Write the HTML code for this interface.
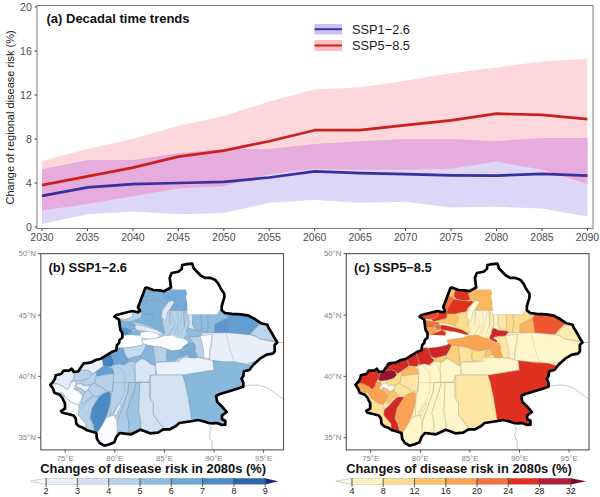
<!DOCTYPE html>
<html lang="en"><head><meta charset="utf-8"><title>Regional disease risk projections</title>
<style>
html,body{margin:0;padding:0;background:#fff;}
body{width:600px;height:497px;overflow:hidden;}
svg text{font-family:"Liberation Sans",Arial,Helvetica,sans-serif;}
</style></head><body>
<svg width="600" height="497" viewBox="0 0 600 497" style="display:block">
<rect width="600" height="497" fill="#fff"/>
<path d="M42.0,169.2 L87.5,159.9 L132.9,159.9 L178.3,153.3 L223.8,148.9 L269.2,148.9 L314.7,143.9 L360.1,141.2 L405.6,139.0 L451.1,139.0 L496.5,141.2 L542.0,137.9 L587.4,137.9 L587.4,216.4 L542.0,208.6 L496.5,206.7 L451.1,207.4 L405.6,201.7 L360.1,202.8 L314.7,200.1 L269.2,202.8 L223.8,213.1 L178.3,214.2 L132.9,211.6 L87.5,214.2 L42.0,224.0 L42.0,169.2Z" fill="#ddd6f6"/>
<path d="M42.0,161.0 L87.5,148.9 L132.9,139.0 L178.3,125.8 L223.8,115.9 L269.2,101.6 L314.7,89.5 L360.1,87.3 L405.6,80.7 L451.1,73.3 L496.5,67.5 L542.0,61.6 L587.4,58.7 L587.4,184.1 L542.0,169.8 L496.5,161.6 L451.1,168.7 L405.6,169.8 L360.1,169.8 L314.7,168.7 L269.2,174.2 L223.8,186.3 L178.3,188.5 L132.9,196.2 L87.5,203.9 L42.0,210.5 L42.0,161.0Z" fill="#fdd7d9"/>
<path d="M542.0,137.9 L496.5,141.2 L451.1,139.0 L405.6,139.0 L360.1,141.2 L314.7,143.9 L269.2,148.9 L223.8,148.9 L178.3,153.3 L132.9,159.9 L87.5,159.9 L42.0,169.2 L42.0,210.5 L87.5,203.9 L132.9,196.2 L178.3,188.5 L223.8,186.3 L269.2,174.2 L314.7,168.7 L360.1,169.8 L405.6,169.8 L451.1,168.7 L496.5,161.6 L542.0,169.8 L587.4,184.1 L587.4,137.9 L542.0,137.9Z" fill="#e5acdd"/>
<polyline points="42.0,195.9 87.5,187.4 132.9,184.1 178.3,183.0 223.8,181.9 269.2,177.5 314.7,171.4 360.1,173.1 405.6,174.2 451.1,175.3 496.5,175.7 542.0,173.8 587.4,175.7" fill="none" stroke="#3b2f9f" stroke-width="2.7" stroke-linejoin="round"/>
<polyline points="42.0,185.2 87.5,176.4 132.9,167.6 178.3,156.6 223.8,150.6 269.2,141.2 314.7,130.2 360.1,130.2 405.6,125.1 451.1,120.3 496.5,113.7 542.0,114.8 587.4,119.2" fill="none" stroke="#c9211e" stroke-width="2.7" stroke-linejoin="round"/>
<rect x="37" y="5.5" width="556" height="223" fill="none" stroke="#7a7a7a" stroke-width="1"/>
<line x1="34.5" x2="37" y1="227.0" y2="227.0" stroke="#444" stroke-width="1"/>
<text x="31.8" y="230.8" font-size="10.5" text-anchor="end" fill="#4d4d4d">0</text>
<line x1="34.5" x2="37" y1="183.0" y2="183.0" stroke="#444" stroke-width="1"/>
<text x="31.8" y="186.8" font-size="10.5" text-anchor="end" fill="#4d4d4d">4</text>
<line x1="34.5" x2="37" y1="139.0" y2="139.0" stroke="#444" stroke-width="1"/>
<text x="31.8" y="142.8" font-size="10.5" text-anchor="end" fill="#4d4d4d">8</text>
<line x1="34.5" x2="37" y1="95.0" y2="95.0" stroke="#444" stroke-width="1"/>
<text x="31.8" y="98.8" font-size="10.5" text-anchor="end" fill="#4d4d4d">12</text>
<line x1="34.5" x2="37" y1="51.0" y2="51.0" stroke="#444" stroke-width="1"/>
<text x="31.8" y="54.8" font-size="10.5" text-anchor="end" fill="#4d4d4d">16</text>
<line x1="34.5" x2="37" y1="7.0" y2="7.0" stroke="#444" stroke-width="1"/>
<text x="31.8" y="10.8" font-size="10.5" text-anchor="end" fill="#4d4d4d">20</text>
<line x1="42.0" x2="42.0" y1="228.5" y2="231" stroke="#444" stroke-width="1"/>
<text x="42.0" y="241.2" font-size="10.5" text-anchor="middle" fill="#4d4d4d">2030</text>
<line x1="87.5" x2="87.5" y1="228.5" y2="231" stroke="#444" stroke-width="1"/>
<text x="87.5" y="241.2" font-size="10.5" text-anchor="middle" fill="#4d4d4d">2035</text>
<line x1="132.9" x2="132.9" y1="228.5" y2="231" stroke="#444" stroke-width="1"/>
<text x="132.9" y="241.2" font-size="10.5" text-anchor="middle" fill="#4d4d4d">2040</text>
<line x1="178.3" x2="178.3" y1="228.5" y2="231" stroke="#444" stroke-width="1"/>
<text x="178.3" y="241.2" font-size="10.5" text-anchor="middle" fill="#4d4d4d">2045</text>
<line x1="223.8" x2="223.8" y1="228.5" y2="231" stroke="#444" stroke-width="1"/>
<text x="223.8" y="241.2" font-size="10.5" text-anchor="middle" fill="#4d4d4d">2050</text>
<line x1="269.2" x2="269.2" y1="228.5" y2="231" stroke="#444" stroke-width="1"/>
<text x="269.2" y="241.2" font-size="10.5" text-anchor="middle" fill="#4d4d4d">2055</text>
<line x1="314.7" x2="314.7" y1="228.5" y2="231" stroke="#444" stroke-width="1"/>
<text x="314.7" y="241.2" font-size="10.5" text-anchor="middle" fill="#4d4d4d">2060</text>
<line x1="360.1" x2="360.1" y1="228.5" y2="231" stroke="#444" stroke-width="1"/>
<text x="360.1" y="241.2" font-size="10.5" text-anchor="middle" fill="#4d4d4d">2065</text>
<line x1="405.6" x2="405.6" y1="228.5" y2="231" stroke="#444" stroke-width="1"/>
<text x="405.6" y="241.2" font-size="10.5" text-anchor="middle" fill="#4d4d4d">2070</text>
<line x1="451.1" x2="451.1" y1="228.5" y2="231" stroke="#444" stroke-width="1"/>
<text x="451.1" y="241.2" font-size="10.5" text-anchor="middle" fill="#4d4d4d">2075</text>
<line x1="496.5" x2="496.5" y1="228.5" y2="231" stroke="#444" stroke-width="1"/>
<text x="496.5" y="241.2" font-size="10.5" text-anchor="middle" fill="#4d4d4d">2080</text>
<line x1="542.0" x2="542.0" y1="228.5" y2="231" stroke="#444" stroke-width="1"/>
<text x="542.0" y="241.2" font-size="10.5" text-anchor="middle" fill="#4d4d4d">2085</text>
<line x1="587.4" x2="587.4" y1="228.5" y2="231" stroke="#444" stroke-width="1"/>
<text x="587.4" y="241.2" font-size="10.5" text-anchor="middle" fill="#4d4d4d">2090</text>
<text transform="translate(13.5,117.4) rotate(-90)" font-size="11" text-anchor="middle" fill="#1a1a1a">Change of regional disease risk (%)</text>
<text x="46.5" y="23.3" font-size="13" font-weight="bold" fill="#111">(a) Decadal time trends</text>
<rect x="314.5" y="24" width="27.5" height="10.5" fill="#c9c2f2"/>
<line x1="314.5" x2="342" y1="29.2" y2="29.2" stroke="#3b2f9f" stroke-width="2"/>
<rect x="314.5" y="40" width="27.5" height="11" fill="#fbbfc1"/>
<line x1="314.5" x2="342" y1="45.5" y2="45.5" stroke="#c9211e" stroke-width="2"/>
<text x="352" y="33.6" font-size="12.8" fill="#1a1a1a">SSP1−2.6</text>
<text x="352" y="50" font-size="12.8" fill="#1a1a1a">SSP5−8.5</text>
<g transform="translate(0,0)">
<clipPath id="clipb"><polygon points="114.3,316.7 116.3,315.0 124.3,313.0 132.3,311.0 137.7,312.3 140.0,311.0 138.0,307.3 145.3,288.0 146.7,287.6 153.3,290.0 160.0,290.4 164.0,291.3 166.7,289.7 171.0,287.5 169.7,277.7 171.7,273.0 178.3,271.7 181.7,269.0 182.3,265.0 187.0,264.1 192.3,263.7 193.7,268.3 197.0,271.7 201.0,275.7 205.0,277.9 210.3,277.9 215.0,279.7 218.3,283.7 221.0,289.0 224.3,293.7 224.3,297.7 223.0,301.7 221.7,306.3 221.7,310.3 225.0,313.0 231.7,313.9 240.7,314.4 248.7,315.7 255.3,319.3 261.3,323.3 267.3,324.7 268.7,328.0 272.0,333.3 275.3,339.3 277.3,342.4 274.7,344.7 274.7,351.3 272.7,353.7 266.7,354.7 260.0,358.7 253.3,364.7 249.3,370.0 244.0,371.3 243.3,376.0 241.6,378.7 243.3,382.7 243.3,386.7 237.3,388.7 226.7,392.0 220.0,394.0 216.0,396.0 217.3,402.0 222.7,407.3 226.7,412.0 222.0,415.3 222.0,419.3 225.3,420.7 225.3,424.7 222.0,425.0 216.7,423.0 212.7,423.3 208.7,423.0 203.3,421.3 198.0,420.0 192.7,421.0 186.0,422.0 179.3,423.0 176.0,426.0 170.0,429.3 163.3,429.3 158.0,432.7 150.0,433.3 144.3,431.0 140.3,429.7 136.3,431.7 131.0,434.3 125.0,433.7 119.7,433.0 116.3,437.0 114.3,442.3 109.7,444.3 104.3,445.7 99.7,443.0 97.0,439.0 96.3,433.0 92.3,431.7 87.0,430.3 83.0,427.7 79.0,426.3 76.3,423.7 75.7,418.3 73.5,415.5 68.0,414.0 62.5,412.8 61.0,411.0 65.0,408.7 65.0,403.3 62.3,398.0 59.7,394.7 54.3,392.7 53.0,388.7 50.3,384.7 53.0,382.0 55.0,378.7 55.7,375.3 61.0,374.0 63.7,370.7 69.0,370.7 71.7,368.7 73.7,372.0 78.3,371.3 81.0,367.3 83.7,363.3 90.3,362.7 95.7,360.0 101.0,358.7 106.3,355.3 112.3,351.7 116.3,350.3 117.0,345.0 119.0,343.0 119.7,339.7 122.3,337.7 122.3,333.0 120.3,329.7 119.7,325.0 119.0,319.7"/></clipPath>
<clipPath id="frb"><rect x="41" y="254" width="242.5" height="196"/></clipPath>
<g clip-path="url(#frb)">
<polyline points="244.0,386.3 249.3,385.3 257.3,385.0 266.7,387.3 274.7,392.7 280.0,396.7 283.3,399.0" fill="none" stroke="#b8b8b8" stroke-width="0.8"/>
<polyline points="208.7,424.7 211.3,428.7 209.3,435.3 212.0,442.0 212.0,449.7" fill="none" stroke="#b8b8b8" stroke-width="0.8"/>
<polyline points="277.3,342.4 283.3,342.6" fill="none" stroke="#b8b8b8" stroke-width="0.8"/>
</g>
<g clip-path="url(#clipb)">
<polygon points="114.3,316.7 116.3,315.0 124.3,313.0 132.3,311.0 137.7,312.3 140.0,311.0 138.0,307.3 145.3,288.0 146.7,287.6 153.3,290.0 160.0,290.4 164.0,291.3 166.7,289.7 171.0,287.5 169.7,277.7 171.7,273.0 178.3,271.7 181.7,269.0 182.3,265.0 187.0,264.1 192.3,263.7 193.7,268.3 197.0,271.7 201.0,275.7 205.0,277.9 210.3,277.9 215.0,279.7 218.3,283.7 221.0,289.0 224.3,293.7 224.3,297.7 223.0,301.7 221.7,306.3 221.7,310.3 225.0,313.0 231.7,313.9 240.7,314.4 248.7,315.7 255.3,319.3 261.3,323.3 267.3,324.7 268.7,328.0 272.0,333.3 275.3,339.3 277.3,342.4 274.7,344.7 274.7,351.3 272.7,353.7 266.7,354.7 260.0,358.7 253.3,364.7 249.3,370.0 244.0,371.3 243.3,376.0 241.6,378.7 243.3,382.7 243.3,386.7 237.3,388.7 226.7,392.0 220.0,394.0 216.0,396.0 217.3,402.0 222.7,407.3 226.7,412.0 222.0,415.3 222.0,419.3 225.3,420.7 225.3,424.7 222.0,425.0 216.7,423.0 212.7,423.3 208.7,423.0 203.3,421.3 198.0,420.0 192.7,421.0 186.0,422.0 179.3,423.0 176.0,426.0 170.0,429.3 163.3,429.3 158.0,432.7 150.0,433.3 144.3,431.0 140.3,429.7 136.3,431.7 131.0,434.3 125.0,433.7 119.7,433.0 116.3,437.0 114.3,442.3 109.7,444.3 104.3,445.7 99.7,443.0 97.0,439.0 96.3,433.0 92.3,431.7 87.0,430.3 83.0,427.7 79.0,426.3 76.3,423.7 75.7,418.3 73.5,415.5 68.0,414.0 62.5,412.8 61.0,411.0 65.0,408.7 65.0,403.3 62.3,398.0 59.7,394.7 54.3,392.7 53.0,388.7 50.3,384.7 53.0,382.0 55.0,378.7 55.7,375.3 61.0,374.0 63.7,370.7 69.0,370.7 71.7,368.7 73.7,372.0 78.3,371.3 81.0,367.3 83.7,363.3 90.3,362.7 95.7,360.0 101.0,358.7 106.3,355.3 112.3,351.7 116.3,350.3 117.0,345.0 119.0,343.0 119.7,339.7 122.3,337.7 122.3,333.0 120.3,329.7 119.7,325.0 119.0,319.7" fill="#b5d2ea"/>
<polygon points="141.8,285.7 150.5,288.3 149.8,296.3 145.8,297.7 143.1,296.3" fill="#7eb1da" stroke="#8290a0" stroke-opacity="0.75" stroke-width="0.55"/>
<polygon points="135.1,300.3 143.8,296.3 148.5,297.7 148.5,300.3 145.1,304.3 143.1,309.7 135.1,311.0" fill="#7eb1da" stroke="#8290a0" stroke-opacity="0.75" stroke-width="0.55"/>
<polygon points="149.8,287.0 161.8,288.3 165.1,299.7 159.1,301.0 151.1,299.0 148.5,296.3 149.8,291.0" fill="#7eb1da" stroke="#8290a0" stroke-opacity="0.75" stroke-width="0.55"/>
<polygon points="148.5,299.0 159.1,301.0 167.1,301.0 168.5,302.3 162.5,308.3 161.1,311.7 156.5,312.3 149.8,313.9 141.1,313.9 142.5,309.0 145.1,304.3" fill="#7eb1da" stroke="#8290a0" stroke-opacity="0.75" stroke-width="0.55"/>
<polygon points="161.8,288.3 171.0,289.4 185.8,289.4 187.1,293.7 185.8,296.3 187.1,301.7 187.8,310.6 169.8,310.6 171.1,306.3 173.8,302.3 172.5,300.3 168.5,301.7 165.1,299.7" fill="#74aad7" stroke="#8290a0" stroke-opacity="0.75" stroke-width="0.55"/>
<polygon points="150.5,314.3 161.1,311.7 162.2,317.7 163.5,319.7 162.5,325.4 164.5,328.3 165.8,333.4 160.5,332.6 153.8,327.9 149.5,325.9 152.5,321.3 152.5,316.3" fill="#7eb1da" stroke="#8290a0" stroke-opacity="0.75" stroke-width="0.55"/>
<polygon points="141.1,313.9 149.8,313.9 152.5,316.3 152.5,321.3 149.5,325.7 140.5,323.3 133.1,321.9 134.5,319.7 141.1,318.3" fill="#7eb1da" stroke="#8290a0" stroke-opacity="0.75" stroke-width="0.55"/>
<polygon points="111.1,316.3 123.1,313.0 131.8,311.7 133.1,315.7 129.8,317.9 125.8,319.3 119.1,318.7 113.8,317.9" fill="#ffffff" stroke="#8290a0" stroke-opacity="0.75" stroke-width="0.55"/>
<polygon points="131.8,311.7 141.8,311.7 141.8,315.0 141.1,318.3 134.5,319.9 128.5,321.7 125.8,319.3 129.8,317.9 133.1,315.7" fill="#b5d2ea" stroke="#8290a0" stroke-opacity="0.75" stroke-width="0.55"/>
<polygon points="115.1,319.3 128.5,321.7 133.1,322.1 135.1,325.7 129.8,324.6 129.1,327.7 122.5,327.3 115.1,325.7" fill="#7eb1da" stroke="#8290a0" stroke-opacity="0.75" stroke-width="0.55"/>
<polygon points="129.1,324.3 135.1,325.4 136.1,329.3 132.5,329.9 129.8,327.9" fill="#7eb1da" stroke="#8290a0" stroke-opacity="0.75" stroke-width="0.55"/>
<polygon points="117.8,327.4 127.1,328.1 131.8,329.9 131.8,333.0 125.8,335.0 117.8,333.7" fill="#5895cd" stroke="#8290a0" stroke-opacity="0.75" stroke-width="0.55"/>
<polygon points="131.8,332.3 136.5,329.9 140.7,332.3 140.2,335.7 132.5,335.7 125.8,335.0" fill="#7eb1da" stroke="#8290a0" stroke-opacity="0.75" stroke-width="0.55"/>
<polygon points="135.4,325.0 140.5,325.4 149.8,327.7 156.5,329.7 162.1,333.0 163.8,335.0 157.8,333.9 149.8,331.9 141.8,330.6 136.5,329.9 135.1,327.3" fill="#e1ebf8" stroke="#8290a0" stroke-opacity="0.75" stroke-width="0.55"/>
<polygon points="140.7,333.0 148.5,331.7 156.5,333.7 159.4,335.7 155.1,337.9 148.5,338.6 143.1,337.9 140.5,335.9" fill="#ffffff"/>
<polygon points="112.5,337.7 122.5,336.1 131.1,335.0 140.2,335.7 141.8,340.3 143.1,344.6 136.5,345.9 125.8,347.3 112.5,347.7" fill="#ffffff"/>
<polygon points="168.5,301.7 172.5,300.3 174.1,302.7 170.5,308.3 167.4,312.6 166.5,317.9 164.5,321.7 163.1,325.4 162.2,325.0 163.5,319.3 161.5,317.7 162.2,311.7 165.5,306.3" fill="#dde8f6" stroke="#8290a0" stroke-opacity="0.75" stroke-width="0.55"/>
<polygon points="185.8,256.3 233.1,256.3 233.1,303.0 220.5,309.7 217.1,314.7 187.8,314.7 187.1,301.7 185.8,296.3 187.1,293.7 185.8,289.7" fill="#ffffff"/>
<polygon points="169.8,310.6 183.8,310.6 184.5,327.0 179.8,329.0 171.8,333.7 169.8,323.0" fill="#b5d2ea" stroke="#8290a0" stroke-opacity="0.75" stroke-width="0.55"/>
<polygon points="183.8,310.6 187.8,314.7 189.1,323.0 187.1,329.7 184.5,336.3 179.8,329.0 184.5,327.0" fill="#b5d2ea" stroke="#8290a0" stroke-opacity="0.75" stroke-width="0.55"/>
<polygon points="187.8,314.7 193.1,314.7 192.5,324.3 194.5,329.7 187.8,328.1 189.1,323.0" fill="#d3e2f3" stroke="#8290a0" stroke-opacity="0.75" stroke-width="0.55"/>
<polygon points="193.1,314.7 201.1,314.7 201.8,330.6 195.8,329.9 192.5,324.3" fill="#90bcdf" stroke="#8290a0" stroke-opacity="0.75" stroke-width="0.55"/>
<polygon points="201.1,314.7 207.8,314.7 208.5,323.0 207.1,332.6 201.8,330.6" fill="#90bcdf" stroke="#8290a0" stroke-opacity="0.75" stroke-width="0.55"/>
<polygon points="207.8,314.7 217.1,314.7 220.5,309.7 223.8,314.3 229.1,315.7 227.1,318.3 219.8,321.7 215.1,324.3 214.5,332.6 207.1,332.6 208.5,323.0" fill="#90bcdf" stroke="#8290a0" stroke-opacity="0.75" stroke-width="0.55"/>
<polygon points="215.1,324.3 219.8,321.7 227.1,318.3 228.5,323.0 229.1,329.0 229.8,333.0 214.5,332.9" fill="#5c98ce" stroke="#8290a0" stroke-opacity="0.75" stroke-width="0.55"/>
<polygon points="229.1,315.7 225.1,309.7 239.8,309.7 262.5,317.7 259.8,323.7 252.5,331.0 249.8,334.6 235.8,333.3 229.8,333.0 229.1,329.0 228.5,323.0 227.1,318.3" fill="#629ed1" stroke="#8290a0" stroke-opacity="0.75" stroke-width="0.55"/>
<polygon points="187.8,327.7 193.1,330.3 201.8,331.0 204.1,333.0 199.8,335.9 191.8,336.6 187.8,337.9 192.5,341.0 191.1,342.6 187.1,340.6 184.5,338.6 183.8,335.7 186.5,331.0" fill="#90bcdf" stroke="#8290a0" stroke-opacity="0.75" stroke-width="0.55"/>
<polygon points="171.0,249.7 216.5,249.7 216.5,289.4 171.0,289.4" fill="#ffffff"/>
<polygon points="201.8,333.1 227.1,332.7 249.8,334.9 255.1,336.0 260.5,339.3 279.1,342.7 279.1,356.0 249.8,362.7 244.5,365.1 235.1,361.6 223.1,362.0 212.5,360.7 201.8,360.7" fill="#e7effa" stroke="#8290a0" stroke-opacity="0.75" stroke-width="0.55"/>
<polygon points="259.8,324.0 267.1,322.7 280.5,342.7 268.5,340.0 260.5,339.3 255.1,336.0 251.1,334.0" fill="#bbd5ec" stroke="#8290a0" stroke-opacity="0.75" stroke-width="0.55"/>
<polygon points="182.5,375.0 214.0,369.9 212.8,360.5 226.8,362.2 243.1,363.3 252.0,366.0 262.0,366.0 262.0,440.0 190.0,440.0 191.8,420.5 188.3,398.3 184.8,382.0" fill="#89b8dd" stroke="#8290a0" stroke-opacity="0.75" stroke-width="0.55"/>
<polygon points="155.8,362.2 179.0,361.5 182.5,357.5 197.0,357.3 212.8,360.5 214.0,369.9 182.5,375.0 156.8,375.0 155.6,368.0" fill="#ebf2fb" stroke="#8290a0" stroke-opacity="0.75" stroke-width="0.55"/>
<polygon points="140.3,375.0 182.5,375.0 184.8,382.0 188.3,398.3 191.8,420.5 192.0,440.0 140.3,440.0" fill="#d3e2f3" stroke="#8290a0" stroke-opacity="0.75" stroke-width="0.55"/>
<polygon points="114.5,365.0 123.8,365.0 129.1,360.7 131.1,361.9 133.8,363.9 133.1,369.0 134.5,382.3 134.5,431.7 114.5,431.7" fill="#bed7ed" stroke="#8290a0" stroke-opacity="0.75" stroke-width="0.55"/>
<polygon points="133.8,363.9 141.8,358.6 145.8,359.9 149.8,363.3 155.1,365.7 155.8,374.6 150.5,375.4 148.5,382.3 134.5,382.3 133.1,369.0" fill="#d9e6f5" stroke="#8290a0" stroke-opacity="0.75" stroke-width="0.55"/>
<polygon points="134.5,382.3 148.5,382.3 150.5,375.4 150.5,431.7 134.5,431.7" fill="#bed7ed" stroke="#8290a0" stroke-opacity="0.75" stroke-width="0.55"/>
<polygon points="141.8,340.3 149.1,339.0 158.5,337.7 163.8,335.7 173.1,335.0 177.1,337.0 182.5,338.3 187.1,340.3 188.5,343.0 183.8,346.3 181.1,349.7 173.1,351.0 166.5,349.0 159.8,347.0 153.1,346.3 146.5,345.0 143.1,343.7" fill="#fafcff" stroke="#8290a0" stroke-opacity="0.75" stroke-width="0.55"/>
<polygon points="183.8,346.3 188.5,343.0 193.8,343.0 195.8,347.0 195.1,351.0 197.8,357.0 194.5,358.3 189.1,357.3 187.1,353.7 186.5,351.0 183.1,349.7 181.1,349.7" fill="#78add8" stroke="#8290a0" stroke-opacity="0.75" stroke-width="0.55"/>
<polygon points="180.5,351.0 186.5,351.0 187.1,355.0 181.8,357.0 179.1,357.3 179.8,354.3" fill="#78add8" stroke="#8290a0" stroke-opacity="0.75" stroke-width="0.55"/>
<polygon points="122.5,348.3 133.1,347.0 141.8,345.0 143.1,343.7 146.5,345.0 144.5,349.7 141.1,355.4 129.8,358.3 125.1,356.3 123.1,351.7" fill="#c4daee" stroke="#8290a0" stroke-opacity="0.75" stroke-width="0.55"/>
<polygon points="115.8,348.3 123.1,349.0 125.8,357.0 129.1,360.3 123.8,365.0 115.8,365.0" fill="#6da6d5" stroke="#8290a0" stroke-opacity="0.75" stroke-width="0.55"/>
<polygon points="129.8,358.3 141.1,355.4 141.8,358.3 133.8,363.9 131.1,361.9 129.1,360.3" fill="#86b5dc" stroke="#8290a0" stroke-opacity="0.75" stroke-width="0.55"/>
<polygon points="144.5,349.7 146.5,345.0 153.1,346.3 153.8,351.7 155.1,365.7 149.8,363.3 145.8,359.9 141.8,358.3 141.1,355.4" fill="#86b5dc" stroke="#8290a0" stroke-opacity="0.75" stroke-width="0.55"/>
<polygon points="153.1,346.3 159.8,347.0 167.1,349.7 166.5,357.0 167.8,361.3 155.5,362.1 154.2,354.3" fill="#b5d2ea" stroke="#8290a0" stroke-opacity="0.75" stroke-width="0.55"/>
<polygon points="167.1,349.7 173.1,351.0 181.1,349.7 179.8,354.3 179.1,357.3 175.8,360.6 167.8,361.3 166.5,357.0" fill="#7eb1da" stroke="#8290a0" stroke-opacity="0.75" stroke-width="0.55"/>
<polygon points="189.1,337.0 205.1,336.3 205.1,358.3 197.8,357.0 195.1,351.0 195.8,347.0 193.8,343.0 192.5,341.7" fill="#b5d2ea" stroke="#8290a0" stroke-opacity="0.75" stroke-width="0.55"/>
<polygon points="163.8,325.0 183.8,325.0 186.5,333.0 183.8,338.3 177.1,337.0 173.1,335.0 165.1,333.0" fill="#b5d2ea"/>
<polygon points="113.8,365.0 119.1,363.7 124.5,365.0 129.8,361.7 135.1,361.7 135.1,451.7 108.5,451.7 110.5,406.3 111.1,393.0 112.5,391.7 113.1,382.3 113.8,373.7 112.5,369.0" fill="#b5d2ea" stroke="#8290a0" stroke-opacity="0.75" stroke-width="0.55"/>
<polygon points="49.8,378.3 61.8,371.7 69.8,369.0 74.5,373.7 73.8,378.3 71.1,381.7 69.8,386.3 67.1,389.7 63.1,386.3 57.1,383.7 49.8,383.7" fill="#e3ecf9" stroke="#8290a0" stroke-opacity="0.75" stroke-width="0.55"/>
<polygon points="74.5,373.7 81.1,370.3 85.8,369.7 89.8,371.0 91.8,375.0 88.5,378.3 81.8,380.3 75.8,381.0 73.1,379.9 74.1,377.0" fill="#b5d2ea" stroke="#8290a0" stroke-opacity="0.75" stroke-width="0.55"/>
<polygon points="81.1,370.3 80.5,363.7 101.8,355.7 103.5,365.9 100.5,368.3 96.5,371.0 92.5,373.7 89.8,371.0 85.8,369.7" fill="#e7effa" stroke="#8290a0" stroke-opacity="0.75" stroke-width="0.55"/>
<polygon points="101.8,355.7 110.2,351.7 114.2,363.3 111.5,366.6 108.5,366.3 104.5,365.7 103.5,365.9" fill="#4280c0" stroke="#8290a0" stroke-opacity="0.75" stroke-width="0.55"/>
<polygon points="110.2,351.7 119.1,347.7 122.5,347.9 123.1,349.0 125.8,357.0 129.1,360.3 123.8,365.0 119.1,363.7 113.8,365.0 114.2,363.3" fill="#6da6d5" stroke="#8290a0" stroke-opacity="0.75" stroke-width="0.55"/>
<polygon points="96.5,371.4 101.1,368.3 104.5,365.9 108.5,366.6 112.5,369.0 113.8,373.7 108.5,373.7 103.1,375.0 97.8,376.3 95.8,374.3" fill="#629ed1" stroke="#8290a0" stroke-opacity="0.75" stroke-width="0.55"/>
<polygon points="95.8,375.0 97.8,376.3 103.1,375.0 113.8,373.7 113.1,382.3 112.5,391.7 108.5,391.0 105.8,390.3 102.5,387.7 96.5,385.0 94.5,383.0 95.8,378.3" fill="#b5d2ea" stroke="#8290a0" stroke-opacity="0.75" stroke-width="0.55"/>
<polygon points="81.8,380.7 88.5,378.6 92.5,373.7 96.5,371.4 95.8,378.3 94.5,383.0 89.8,385.0 83.8,385.0 81.1,383.0" fill="#b5d2ea" stroke="#8290a0" stroke-opacity="0.75" stroke-width="0.55"/>
<polygon points="75.8,384.3 80.5,383.7 83.8,385.7 89.8,385.7 88.5,389.7 85.1,391.7 81.8,389.0 77.8,387.7" fill="#e7effa" stroke="#8290a0" stroke-opacity="0.75" stroke-width="0.55"/>
<polygon points="89.8,385.7 94.5,383.0 96.5,385.0 102.5,387.9 105.8,390.6 103.1,393.9 96.5,396.6 92.5,395.4 88.5,389.7" fill="#b5d2ea" stroke="#8290a0" stroke-opacity="0.75" stroke-width="0.55"/>
<polygon points="49.8,384.3 57.1,383.9 63.1,386.6 67.1,389.9 69.8,386.6 71.1,382.3 75.8,381.3 75.8,384.3 73.8,389.0 78.5,391.0 82.5,395.0 81.1,401.0 78.5,404.6 73.8,403.7 69.8,401.0 65.8,398.3 63.1,393.0 56.5,392.3 49.8,390.3" fill="#fafcff" stroke="#8290a0" stroke-opacity="0.75" stroke-width="0.55"/>
<polygon points="75.1,389.7 78.5,387.7 81.8,389.3 85.1,391.9 83.1,395.4 78.5,391.0" fill="#b5d2ea" stroke="#8290a0" stroke-opacity="0.75" stroke-width="0.55"/>
<polygon points="83.1,395.7 85.1,391.9 88.5,389.7 92.5,395.4 91.1,397.7 88.5,398.6 85.1,401.9 81.8,403.9 81.1,401.0" fill="#b5d2ea" stroke="#8290a0" stroke-opacity="0.75" stroke-width="0.55"/>
<polygon points="57.8,393.0 65.8,398.3 69.8,401.0 73.8,403.7 78.5,404.6 79.1,409.7 78.5,415.0 81.8,419.0 85.8,423.7 86.5,430.3 76.5,429.0 63.1,419.7 57.8,405.0" fill="#fafcff" stroke="#8290a0" stroke-opacity="0.75" stroke-width="0.55"/>
<polygon points="99.1,397.0 103.1,394.1 108.5,391.4 110.5,393.0 109.8,405.0 107.1,414.3 103.1,423.7 97.8,433.0 94.5,433.0 93.8,425.0 90.5,418.3 91.8,409.0 95.8,401.7" fill="#4a8ac7" stroke="#8290a0" stroke-opacity="0.75" stroke-width="0.55"/>
<polygon points="92.5,397.0 99.1,397.0 95.8,401.7 91.8,408.3 89.8,418.3 92.5,423.7 93.8,429.0 94.5,433.0 86.5,431.0 85.8,423.7 81.8,419.0 78.5,415.0 79.1,409.7 83.1,406.3 86.5,402.3 89.1,399.7" fill="#b5d2ea" stroke="#8290a0" stroke-opacity="0.75" stroke-width="0.55"/>
<polygon points="108.5,417.0 113.8,415.0 116.5,419.7 119.1,425.0 117.8,431.0 120.5,434.3 119.1,449.0 95.1,449.0 95.8,433.0 98.5,431.0 103.1,423.7 105.8,418.3" fill="#fafcff" stroke="#8290a0" stroke-opacity="0.75" stroke-width="0.55"/>
<polygon points="113.8,415.0 116.5,409.0 119.1,405.0 121.1,403.0 120.5,406.3 117.8,411.0 116.5,415.7" fill="#fafcff" stroke="#8290a0" stroke-opacity="0.75" stroke-width="0.55"/>
<polygon points="128.7,382.5 136.0,382.5 134.0,391.7 129.3,403.7 126.7,413.0 128.7,421.0 129.3,439.7 116.7,439.7 117.3,421.0 121.3,410.3 124.7,401.0 128.0,391.7" fill="#aacbe7" stroke="#8290a0" stroke-opacity="0.75" stroke-width="0.55"/>
<polygon points="136.0,382.5 140.0,382.5 139.3,398.3 138.7,411.7 140.7,421.0 141.3,439.7 129.3,439.7 128.7,421.0 126.7,413.0 129.3,403.7 134.0,391.7" fill="#9fc5e3" stroke="#8290a0" stroke-opacity="0.75" stroke-width="0.55"/>
<polygon points="140.0,382.5 149.6,382.5 149.3,397.0 153.3,402.3 153.3,414.3 158.7,422.3 162.7,427.7 162.7,439.7 141.3,439.7 140.7,421.0 138.7,411.7 139.3,398.3" fill="#d3e2f3" stroke="#8290a0" stroke-opacity="0.75" stroke-width="0.55"/>
<polygon points="200.0,335.7 212.0,334.3 211.3,341.7 210.0,348.0 209.5,358.6 204.0,358.6 203.3,348.0 201.3,340.3" fill="#fafcff" stroke="#8290a0" stroke-opacity="0.75" stroke-width="0.55"/>
<polyline points="225.8,333.1 227.8,340.0 229.8,349.3 232.5,356.0 233.5,360.7" fill="none" stroke="#7f93a8" stroke-opacity="0.6" stroke-width="0.5"/>
<polyline points="212.5,334.0 211.8,344.0 209.8,353.3 209.1,360.0" fill="none" stroke="#7f93a8" stroke-opacity="0.6" stroke-width="0.5"/>
<polyline points="150.0,398.7 153.3,403.3 153.3,414.0 158.0,420.7 163.3,426.7" fill="none" stroke="#7f93a8" stroke-opacity="0.6" stroke-width="0.5"/>
<polyline points="113.3,382.5 150.0,382.5" fill="none" stroke="#7f93a8" stroke-opacity="0.6" stroke-width="0.5"/>
<polyline points="124.0,383.0 124.7,391.7 120.7,401.0 117.3,405.0 113.3,413.0" fill="none" stroke="#7f93a8" stroke-opacity="0.6" stroke-width="0.5"/>
<polyline points="128.7,383.0 128.0,391.7 124.7,401.0 121.3,410.3 117.3,421.0 116.0,426.3" fill="none" stroke="#7f93a8" stroke-opacity="0.6" stroke-width="0.5"/>
<polyline points="113.3,383.0 112.0,391.7 109.3,405.0 105.3,418.3" fill="none" stroke="#7f93a8" stroke-opacity="0.6" stroke-width="0.5"/>
<polyline points="125.3,382.3 124.0,371.7 117.3,366.3" fill="none" stroke="#7f93a8" stroke-opacity="0.6" stroke-width="0.5"/>
<polyline points="135.3,382.3 135.3,373.0 132.0,365.0" fill="none" stroke="#7f93a8" stroke-opacity="0.6" stroke-width="0.5"/>
<polyline points="169.8,312.0 171.8,317.3 175.1,322.7 173.8,326.7 171.1,332.0 168.5,335.3" fill="none" stroke="#7f93a8" stroke-opacity="0.6" stroke-width="0.5"/>
<polyline points="176.5,312.0 178.5,317.3 177.1,326.7 174.5,334.7" fill="none" stroke="#7f93a8" stroke-opacity="0.6" stroke-width="0.5"/>
<polyline points="181.8,312.0 181.1,320.0 178.5,329.3 177.1,335.3" fill="none" stroke="#7f93a8" stroke-opacity="0.6" stroke-width="0.5"/>
<polyline points="185.1,312.0 185.8,320.0 183.1,328.0 180.5,334.7" fill="none" stroke="#7f93a8" stroke-opacity="0.6" stroke-width="0.5"/>
</g>
<polygon points="114.3,316.7 116.3,315.0 124.3,313.0 132.3,311.0 137.7,312.3 140.0,311.0 138.0,307.3 145.3,288.0 146.7,287.6 153.3,290.0 160.0,290.4 164.0,291.3 166.7,289.7 171.0,287.5 169.7,277.7 171.7,273.0 178.3,271.7 181.7,269.0 182.3,265.0 187.0,264.1 192.3,263.7 193.7,268.3 197.0,271.7 201.0,275.7 205.0,277.9 210.3,277.9 215.0,279.7 218.3,283.7 221.0,289.0 224.3,293.7 224.3,297.7 223.0,301.7 221.7,306.3 221.7,310.3 225.0,313.0 231.7,313.9 240.7,314.4 248.7,315.7 255.3,319.3 261.3,323.3 267.3,324.7 268.7,328.0 272.0,333.3 275.3,339.3 277.3,342.4 274.7,344.7 274.7,351.3 272.7,353.7 266.7,354.7 260.0,358.7 253.3,364.7 249.3,370.0 244.0,371.3 243.3,376.0 241.6,378.7 243.3,382.7 243.3,386.7 237.3,388.7 226.7,392.0 220.0,394.0 216.0,396.0 217.3,402.0 222.7,407.3 226.7,412.0 222.0,415.3 222.0,419.3 225.3,420.7 225.3,424.7 222.0,425.0 216.7,423.0 212.7,423.3 208.7,423.0 203.3,421.3 198.0,420.0 192.7,421.0 186.0,422.0 179.3,423.0 176.0,426.0 170.0,429.3 163.3,429.3 158.0,432.7 150.0,433.3 144.3,431.0 140.3,429.7 136.3,431.7 131.0,434.3 125.0,433.7 119.7,433.0 116.3,437.0 114.3,442.3 109.7,444.3 104.3,445.7 99.7,443.0 97.0,439.0 96.3,433.0 92.3,431.7 87.0,430.3 83.0,427.7 79.0,426.3 76.3,423.7 75.7,418.3 73.5,415.5 68.0,414.0 62.5,412.8 61.0,411.0 65.0,408.7 65.0,403.3 62.3,398.0 59.7,394.7 54.3,392.7 53.0,388.7 50.3,384.7 53.0,382.0 55.0,378.7 55.7,375.3 61.0,374.0 63.7,370.7 69.0,370.7 71.7,368.7 73.7,372.0 78.3,371.3 81.0,367.3 83.7,363.3 90.3,362.7 95.7,360.0 101.0,358.7 106.3,355.3 112.3,351.7 116.3,350.3 117.0,345.0 119.0,343.0 119.7,339.7 122.3,337.7 122.3,333.0 120.3,329.7 119.7,325.0 119.0,319.7" fill="none" stroke="#000" stroke-width="2.7" stroke-linejoin="round"/>
</g>
<g transform="translate(305.2,0)">
<clipPath id="clipc"><polygon points="114.3,316.7 116.3,315.0 124.3,313.0 132.3,311.0 137.7,312.3 140.0,311.0 138.0,307.3 145.3,288.0 146.7,287.6 153.3,290.0 160.0,290.4 164.0,291.3 166.7,289.7 171.0,287.5 169.7,277.7 171.7,273.0 178.3,271.7 181.7,269.0 182.3,265.0 187.0,264.1 192.3,263.7 193.7,268.3 197.0,271.7 201.0,275.7 205.0,277.9 210.3,277.9 215.0,279.7 218.3,283.7 221.0,289.0 224.3,293.7 224.3,297.7 223.0,301.7 221.7,306.3 221.7,310.3 225.0,313.0 231.7,313.9 240.7,314.4 248.7,315.7 255.3,319.3 261.3,323.3 267.3,324.7 268.7,328.0 272.0,333.3 275.3,339.3 277.3,342.4 274.7,344.7 274.7,351.3 272.7,353.7 266.7,354.7 260.0,358.7 253.3,364.7 249.3,370.0 244.0,371.3 243.3,376.0 241.6,378.7 243.3,382.7 243.3,386.7 237.3,388.7 226.7,392.0 220.0,394.0 216.0,396.0 217.3,402.0 222.7,407.3 226.7,412.0 222.0,415.3 222.0,419.3 225.3,420.7 225.3,424.7 222.0,425.0 216.7,423.0 212.7,423.3 208.7,423.0 203.3,421.3 198.0,420.0 192.7,421.0 186.0,422.0 179.3,423.0 176.0,426.0 170.0,429.3 163.3,429.3 158.0,432.7 150.0,433.3 144.3,431.0 140.3,429.7 136.3,431.7 131.0,434.3 125.0,433.7 119.7,433.0 116.3,437.0 114.3,442.3 109.7,444.3 104.3,445.7 99.7,443.0 97.0,439.0 96.3,433.0 92.3,431.7 87.0,430.3 83.0,427.7 79.0,426.3 76.3,423.7 75.7,418.3 73.5,415.5 68.0,414.0 62.5,412.8 61.0,411.0 65.0,408.7 65.0,403.3 62.3,398.0 59.7,394.7 54.3,392.7 53.0,388.7 50.3,384.7 53.0,382.0 55.0,378.7 55.7,375.3 61.0,374.0 63.7,370.7 69.0,370.7 71.7,368.7 73.7,372.0 78.3,371.3 81.0,367.3 83.7,363.3 90.3,362.7 95.7,360.0 101.0,358.7 106.3,355.3 112.3,351.7 116.3,350.3 117.0,345.0 119.0,343.0 119.7,339.7 122.3,337.7 122.3,333.0 120.3,329.7 119.7,325.0 119.0,319.7"/></clipPath>
<clipPath id="frc"><rect x="41" y="254" width="242.5" height="196"/></clipPath>
<g clip-path="url(#frc)">
<polyline points="244.0,386.3 249.3,385.3 257.3,385.0 266.7,387.3 274.7,392.7 280.0,396.7 283.3,399.0" fill="none" stroke="#b8b8b8" stroke-width="0.8"/>
<polyline points="208.7,424.7 211.3,428.7 209.3,435.3 212.0,442.0 212.0,449.7" fill="none" stroke="#b8b8b8" stroke-width="0.8"/>
<polyline points="277.3,342.4 283.3,342.6" fill="none" stroke="#b8b8b8" stroke-width="0.8"/>
</g>
<g clip-path="url(#clipc)">
<polygon points="114.3,316.7 116.3,315.0 124.3,313.0 132.3,311.0 137.7,312.3 140.0,311.0 138.0,307.3 145.3,288.0 146.7,287.6 153.3,290.0 160.0,290.4 164.0,291.3 166.7,289.7 171.0,287.5 169.7,277.7 171.7,273.0 178.3,271.7 181.7,269.0 182.3,265.0 187.0,264.1 192.3,263.7 193.7,268.3 197.0,271.7 201.0,275.7 205.0,277.9 210.3,277.9 215.0,279.7 218.3,283.7 221.0,289.0 224.3,293.7 224.3,297.7 223.0,301.7 221.7,306.3 221.7,310.3 225.0,313.0 231.7,313.9 240.7,314.4 248.7,315.7 255.3,319.3 261.3,323.3 267.3,324.7 268.7,328.0 272.0,333.3 275.3,339.3 277.3,342.4 274.7,344.7 274.7,351.3 272.7,353.7 266.7,354.7 260.0,358.7 253.3,364.7 249.3,370.0 244.0,371.3 243.3,376.0 241.6,378.7 243.3,382.7 243.3,386.7 237.3,388.7 226.7,392.0 220.0,394.0 216.0,396.0 217.3,402.0 222.7,407.3 226.7,412.0 222.0,415.3 222.0,419.3 225.3,420.7 225.3,424.7 222.0,425.0 216.7,423.0 212.7,423.3 208.7,423.0 203.3,421.3 198.0,420.0 192.7,421.0 186.0,422.0 179.3,423.0 176.0,426.0 170.0,429.3 163.3,429.3 158.0,432.7 150.0,433.3 144.3,431.0 140.3,429.7 136.3,431.7 131.0,434.3 125.0,433.7 119.7,433.0 116.3,437.0 114.3,442.3 109.7,444.3 104.3,445.7 99.7,443.0 97.0,439.0 96.3,433.0 92.3,431.7 87.0,430.3 83.0,427.7 79.0,426.3 76.3,423.7 75.7,418.3 73.5,415.5 68.0,414.0 62.5,412.8 61.0,411.0 65.0,408.7 65.0,403.3 62.3,398.0 59.7,394.7 54.3,392.7 53.0,388.7 50.3,384.7 53.0,382.0 55.0,378.7 55.7,375.3 61.0,374.0 63.7,370.7 69.0,370.7 71.7,368.7 73.7,372.0 78.3,371.3 81.0,367.3 83.7,363.3 90.3,362.7 95.7,360.0 101.0,358.7 106.3,355.3 112.3,351.7 116.3,350.3 117.0,345.0 119.0,343.0 119.7,339.7 122.3,337.7 122.3,333.0 120.3,329.7 119.7,325.0 119.0,319.7" fill="#fff2c0"/>
<polygon points="141.8,285.7 150.5,288.3 149.8,296.3 145.8,297.7 143.1,296.3" fill="#fdc26a" stroke="#b0a585" stroke-opacity="0.75" stroke-width="0.55"/>
<polygon points="135.1,300.3 143.8,296.3 148.5,297.7 148.5,300.3 145.1,304.3 143.1,309.7 135.1,311.0" fill="#f5713c" stroke="#b0a585" stroke-opacity="0.75" stroke-width="0.55"/>
<polygon points="149.8,287.0 161.8,288.3 165.1,299.7 159.1,301.0 151.1,299.0 148.5,296.3 149.8,291.0" fill="#e0301f" stroke="#b0a585" stroke-opacity="0.75" stroke-width="0.55"/>
<polygon points="148.5,299.0 159.1,301.0 167.1,301.0 168.5,302.3 162.5,308.3 161.1,311.7 156.5,312.3 149.8,313.9 141.1,313.9 142.5,309.0 145.1,304.3" fill="#e0301f" stroke="#b0a585" stroke-opacity="0.75" stroke-width="0.55"/>
<polygon points="161.8,288.3 171.0,289.4 185.8,289.4 187.1,293.7 185.8,296.3 187.1,301.7 187.8,310.6 169.8,310.6 171.1,306.3 173.8,302.3 172.5,300.3 168.5,301.7 165.1,299.7" fill="#fcb660" stroke="#b0a585" stroke-opacity="0.75" stroke-width="0.55"/>
<polygon points="150.5,314.3 161.1,311.7 162.2,317.7 163.5,319.7 162.5,325.4 164.5,328.3 165.8,333.4 160.5,332.6 153.8,327.9 149.5,325.9 152.5,321.3 152.5,316.3" fill="#fddc8c" stroke="#b0a585" stroke-opacity="0.75" stroke-width="0.55"/>
<polygon points="141.1,313.9 149.8,313.9 152.5,316.3 152.5,321.3 149.5,325.7 140.5,323.3 133.1,321.9 134.5,319.7 141.1,318.3" fill="#fdc26a" stroke="#b0a585" stroke-opacity="0.75" stroke-width="0.55"/>
<polygon points="111.1,316.3 123.1,313.0 131.8,311.7 133.1,315.7 129.8,317.9 125.8,319.3 119.1,318.7 113.8,317.9" fill="#e84a2b" stroke="#b0a585" stroke-opacity="0.75" stroke-width="0.55"/>
<polygon points="131.8,311.7 141.8,311.7 141.8,315.0 141.1,318.3 134.5,319.9 128.5,321.7 125.8,319.3 129.8,317.9 133.1,315.7" fill="#e0301f" stroke="#b0a585" stroke-opacity="0.75" stroke-width="0.55"/>
<polygon points="115.1,319.3 128.5,321.7 133.1,322.1 135.1,325.7 129.8,324.6 129.1,327.7 122.5,327.3 115.1,325.7" fill="#f5713c" stroke="#b0a585" stroke-opacity="0.75" stroke-width="0.55"/>
<polygon points="129.1,324.3 135.1,325.4 136.1,329.3 132.5,329.9 129.8,327.9" fill="#f5713c" stroke="#b0a585" stroke-opacity="0.75" stroke-width="0.55"/>
<polygon points="117.8,327.4 127.1,328.1 131.8,329.9 131.8,333.0 125.8,335.0 117.8,333.7" fill="#fba352" stroke="#b0a585" stroke-opacity="0.75" stroke-width="0.55"/>
<polygon points="131.8,332.3 136.5,329.9 140.7,332.3 140.2,335.7 132.5,335.7 125.8,335.0" fill="#e0301f" stroke="#b0a585" stroke-opacity="0.75" stroke-width="0.55"/>
<polygon points="135.4,325.0 140.5,325.4 149.8,327.7 156.5,329.7 162.1,333.0 163.8,335.0 157.8,333.9 149.8,331.9 141.8,330.6 136.5,329.9 135.1,327.3" fill="#d42a26" stroke="#b0a585" stroke-opacity="0.75" stroke-width="0.55"/>
<polygon points="140.7,333.0 148.5,331.7 156.5,333.7 159.4,335.7 155.1,337.9 148.5,338.6 143.1,337.9 140.5,335.9" fill="#ffffff"/>
<polygon points="112.5,337.7 122.5,336.1 131.1,335.0 140.2,335.7 141.8,340.3 143.1,344.6 136.5,345.9 125.8,347.3 112.5,347.7" fill="#ffffff"/>
<polygon points="168.5,301.7 172.5,300.3 174.1,302.7 170.5,308.3 167.4,312.6 166.5,317.9 164.5,321.7 163.1,325.4 162.2,325.0 163.5,319.3 161.5,317.7 162.2,311.7 165.5,306.3" fill="#fffbd9" stroke="#b0a585" stroke-opacity="0.75" stroke-width="0.55"/>
<polygon points="185.8,256.3 233.1,256.3 233.1,303.0 220.5,309.7 217.1,314.7 187.8,314.7 187.1,301.7 185.8,296.3 187.1,293.7 185.8,289.7" fill="#ffffff"/>
<polygon points="169.8,310.6 183.8,310.6 184.5,327.0 179.8,329.0 171.8,333.7 169.8,323.0" fill="#fff6cc" stroke="#b0a585" stroke-opacity="0.75" stroke-width="0.55"/>
<polygon points="183.8,310.6 187.8,314.7 189.1,323.0 187.1,329.7 184.5,336.3 179.8,329.0 184.5,327.0" fill="#fff2c0" stroke="#b0a585" stroke-opacity="0.75" stroke-width="0.55"/>
<polygon points="187.8,314.7 193.1,314.7 192.5,324.3 194.5,329.7 187.8,328.1 189.1,323.0" fill="#fff6cc" stroke="#b0a585" stroke-opacity="0.75" stroke-width="0.55"/>
<polygon points="193.1,314.7 201.1,314.7 201.8,330.6 195.8,329.9 192.5,324.3" fill="#fee7a6" stroke="#b0a585" stroke-opacity="0.75" stroke-width="0.55"/>
<polygon points="201.1,314.7 207.8,314.7 208.5,323.0 207.1,332.6 201.8,330.6" fill="#fddc8c" stroke="#b0a585" stroke-opacity="0.75" stroke-width="0.55"/>
<polygon points="207.8,314.7 217.1,314.7 220.5,309.7 223.8,314.3 229.1,315.7 227.1,318.3 219.8,321.7 215.1,324.3 214.5,332.6 207.1,332.6 208.5,323.0" fill="#fddc8c" stroke="#b0a585" stroke-opacity="0.75" stroke-width="0.55"/>
<polygon points="215.1,324.3 219.8,321.7 227.1,318.3 228.5,323.0 229.1,329.0 229.8,333.0 214.5,332.9" fill="#fcb25e" stroke="#b0a585" stroke-opacity="0.75" stroke-width="0.55"/>
<polygon points="229.1,315.7 225.1,309.7 239.8,309.7 262.5,317.7 259.8,323.7 252.5,331.0 249.8,334.6 235.8,333.3 229.8,333.0 229.1,329.0 228.5,323.0 227.1,318.3" fill="#ed5730" stroke="#b0a585" stroke-opacity="0.75" stroke-width="0.55"/>
<polygon points="187.8,327.7 193.1,330.3 201.8,331.0 204.1,333.0 199.8,335.9 191.8,336.6 187.8,337.9 192.5,341.0 191.1,342.6 187.1,340.6 184.5,338.6 183.8,335.7 186.5,331.0" fill="#cc262c" stroke="#b0a585" stroke-opacity="0.75" stroke-width="0.55"/>
<polygon points="171.0,249.7 216.5,249.7 216.5,289.4 171.0,289.4" fill="#ffffff"/>
<polygon points="201.8,333.1 227.1,332.7 249.8,334.9 255.1,336.0 260.5,339.3 279.1,342.7 279.1,356.0 249.8,362.7 244.5,365.1 235.1,361.6 223.1,362.0 212.5,360.7 201.8,360.7" fill="#fff6cc" stroke="#b0a585" stroke-opacity="0.75" stroke-width="0.55"/>
<polygon points="259.8,324.0 267.1,322.7 280.5,342.7 268.5,340.0 260.5,339.3 255.1,336.0 251.1,334.0" fill="#feebb0" stroke="#b0a585" stroke-opacity="0.75" stroke-width="0.55"/>
<polygon points="182.5,375.0 214.0,369.9 212.8,360.5 226.8,362.2 243.1,363.3 252.0,366.0 262.0,366.0 262.0,440.0 190.0,440.0 191.8,420.5 188.3,398.3 184.8,382.0" fill="#e0301f" stroke="#b0a585" stroke-opacity="0.75" stroke-width="0.55"/>
<polygon points="155.8,362.2 179.0,361.5 182.5,357.5 197.0,357.3 212.8,360.5 214.0,369.9 182.5,375.0 156.8,375.0 155.6,368.0" fill="#fff6cc" stroke="#b0a585" stroke-opacity="0.75" stroke-width="0.55"/>
<polygon points="140.3,375.0 182.5,375.0 184.8,382.0 188.3,398.3 191.8,420.5 192.0,440.0 140.3,440.0" fill="#fee7a6" stroke="#b0a585" stroke-opacity="0.75" stroke-width="0.55"/>
<polygon points="114.5,365.0 123.8,365.0 129.1,360.7 131.1,361.9 133.8,363.9 133.1,369.0 134.5,382.3 134.5,431.7 114.5,431.7" fill="#fff6cc" stroke="#b0a585" stroke-opacity="0.75" stroke-width="0.55"/>
<polygon points="133.8,363.9 141.8,358.6 145.8,359.9 149.8,363.3 155.1,365.7 155.8,374.6 150.5,375.4 148.5,382.3 134.5,382.3 133.1,369.0" fill="#fff6cc" stroke="#b0a585" stroke-opacity="0.75" stroke-width="0.55"/>
<polygon points="134.5,382.3 148.5,382.3 150.5,375.4 150.5,431.7 134.5,431.7" fill="#fff6cc" stroke="#b0a585" stroke-opacity="0.75" stroke-width="0.55"/>
<polygon points="141.8,340.3 149.1,339.0 158.5,337.7 163.8,335.7 173.1,335.0 177.1,337.0 182.5,338.3 187.1,340.3 188.5,343.0 183.8,346.3 181.1,349.7 173.1,351.0 166.5,349.0 159.8,347.0 153.1,346.3 146.5,345.0 143.1,343.7" fill="#fba352" stroke="#b0a585" stroke-opacity="0.75" stroke-width="0.55"/>
<polygon points="183.8,346.3 188.5,343.0 193.8,343.0 195.8,347.0 195.1,351.0 197.8,357.0 194.5,358.3 189.1,357.3 187.1,353.7 186.5,351.0 183.1,349.7 181.1,349.7" fill="#fba352" stroke="#b0a585" stroke-opacity="0.75" stroke-width="0.55"/>
<polygon points="180.5,351.0 186.5,351.0 187.1,355.0 181.8,357.0 179.1,357.3 179.8,354.3" fill="#fdc26a" stroke="#b0a585" stroke-opacity="0.75" stroke-width="0.55"/>
<polygon points="122.5,348.3 133.1,347.0 141.8,345.0 143.1,343.7 146.5,345.0 144.5,349.7 141.1,355.4 129.8,358.3 125.1,356.3 123.1,351.7" fill="#cc262c" stroke="#b0a585" stroke-opacity="0.75" stroke-width="0.55"/>
<polygon points="115.8,348.3 123.1,349.0 125.8,357.0 129.1,360.3 123.8,365.0 115.8,365.0" fill="#cc262c" stroke="#b0a585" stroke-opacity="0.75" stroke-width="0.55"/>
<polygon points="129.8,358.3 141.1,355.4 141.8,358.3 133.8,363.9 131.1,361.9 129.1,360.3" fill="#fdca74" stroke="#b0a585" stroke-opacity="0.75" stroke-width="0.55"/>
<polygon points="144.5,349.7 146.5,345.0 153.1,346.3 153.8,351.7 155.1,365.7 149.8,363.3 145.8,359.9 141.8,358.3 141.1,355.4" fill="#fdcf7b" stroke="#b0a585" stroke-opacity="0.75" stroke-width="0.55"/>
<polygon points="153.1,346.3 159.8,347.0 167.1,349.7 166.5,357.0 167.8,361.3 155.5,362.1 154.2,354.3" fill="#fee39c" stroke="#b0a585" stroke-opacity="0.75" stroke-width="0.55"/>
<polygon points="167.1,349.7 173.1,351.0 181.1,349.7 179.8,354.3 179.1,357.3 175.8,360.6 167.8,361.3 166.5,357.0" fill="#fddc8c" stroke="#b0a585" stroke-opacity="0.75" stroke-width="0.55"/>
<polygon points="189.1,337.0 205.1,336.3 205.1,358.3 197.8,357.0 195.1,351.0 195.8,347.0 193.8,343.0 192.5,341.7" fill="#fee7a6" stroke="#b0a585" stroke-opacity="0.75" stroke-width="0.55"/>
<polygon points="163.8,325.0 183.8,325.0 186.5,333.0 183.8,338.3 177.1,337.0 173.1,335.0 165.1,333.0" fill="#fff2c0"/>
<polygon points="113.8,365.0 119.1,363.7 124.5,365.0 129.8,361.7 135.1,361.7 135.1,451.7 108.5,451.7 110.5,406.3 111.1,393.0 112.5,391.7 113.1,382.3 113.8,373.7 112.5,369.0" fill="#fff6cc" stroke="#b0a585" stroke-opacity="0.75" stroke-width="0.55"/>
<polygon points="49.8,378.3 61.8,371.7 69.8,369.0 74.5,373.7 73.8,378.3 71.1,381.7 69.8,386.3 67.1,389.7 63.1,386.3 57.1,383.7 49.8,383.7" fill="#e0301f" stroke="#b0a585" stroke-opacity="0.75" stroke-width="0.55"/>
<polygon points="74.5,373.7 81.1,370.3 85.8,369.7 89.8,371.0 91.8,375.0 88.5,378.3 81.8,380.3 75.8,381.0 73.1,379.9 74.1,377.0" fill="#9a1432" stroke="#b0a585" stroke-opacity="0.75" stroke-width="0.55"/>
<polygon points="81.1,370.3 80.5,363.7 101.8,355.7 103.5,365.9 100.5,368.3 96.5,371.0 92.5,373.7 89.8,371.0 85.8,369.7" fill="#d42a26" stroke="#b0a585" stroke-opacity="0.75" stroke-width="0.55"/>
<polygon points="101.8,355.7 110.2,351.7 114.2,363.3 111.5,366.6 108.5,366.3 104.5,365.7 103.5,365.9" fill="#d42a26" stroke="#b0a585" stroke-opacity="0.75" stroke-width="0.55"/>
<polygon points="110.2,351.7 119.1,347.7 122.5,347.9 123.1,349.0 125.8,357.0 129.1,360.3 123.8,365.0 119.1,363.7 113.8,365.0 114.2,363.3" fill="#d42a26" stroke="#b0a585" stroke-opacity="0.75" stroke-width="0.55"/>
<polygon points="96.5,371.4 101.1,368.3 104.5,365.9 108.5,366.6 112.5,369.0 113.8,373.7 108.5,373.7 103.1,375.0 97.8,376.3 95.8,374.3" fill="#fcb963" stroke="#b0a585" stroke-opacity="0.75" stroke-width="0.55"/>
<polygon points="95.8,375.0 97.8,376.3 103.1,375.0 113.8,373.7 113.1,382.3 112.5,391.7 108.5,391.0 105.8,390.3 102.5,387.7 96.5,385.0 94.5,383.0 95.8,378.3" fill="#fee7a6" stroke="#b0a585" stroke-opacity="0.75" stroke-width="0.55"/>
<polygon points="81.8,380.7 88.5,378.6 92.5,373.7 96.5,371.4 95.8,378.3 94.5,383.0 89.8,385.0 83.8,385.0 81.1,383.0" fill="#fddc8c" stroke="#b0a585" stroke-opacity="0.75" stroke-width="0.55"/>
<polygon points="75.8,384.3 80.5,383.7 83.8,385.7 89.8,385.7 88.5,389.7 85.1,391.7 81.8,389.0 77.8,387.7" fill="#ffffff" stroke="#b0a585" stroke-opacity="0.75" stroke-width="0.55"/>
<polygon points="89.8,385.7 94.5,383.0 96.5,385.0 102.5,387.9 105.8,390.6 103.1,393.9 96.5,396.6 92.5,395.4 88.5,389.7" fill="#fee39c" stroke="#b0a585" stroke-opacity="0.75" stroke-width="0.55"/>
<polygon points="49.8,384.3 57.1,383.9 63.1,386.6 67.1,389.9 69.8,386.6 71.1,382.3 75.8,381.3 75.8,384.3 73.8,389.0 78.5,391.0 82.5,395.0 81.1,401.0 78.5,404.6 73.8,403.7 69.8,401.0 65.8,398.3 63.1,393.0 56.5,392.3 49.8,390.3" fill="#fba352" stroke="#b0a585" stroke-opacity="0.75" stroke-width="0.55"/>
<polygon points="75.1,389.7 78.5,387.7 81.8,389.3 85.1,391.9 83.1,395.4 78.5,391.0" fill="#fdc26a" stroke="#b0a585" stroke-opacity="0.75" stroke-width="0.55"/>
<polygon points="83.1,395.7 85.1,391.9 88.5,389.7 92.5,395.4 91.1,397.7 88.5,398.6 85.1,401.9 81.8,403.9 81.1,401.0" fill="#fdc26a" stroke="#b0a585" stroke-opacity="0.75" stroke-width="0.55"/>
<polygon points="57.8,393.0 65.8,398.3 69.8,401.0 73.8,403.7 78.5,404.6 79.1,409.7 78.5,415.0 81.8,419.0 85.8,423.7 86.5,430.3 76.5,429.0 63.1,419.7 57.8,405.0" fill="#fde096" stroke="#b0a585" stroke-opacity="0.75" stroke-width="0.55"/>
<polygon points="99.1,397.0 103.1,394.1 108.5,391.4 110.5,393.0 109.8,405.0 107.1,414.3 103.1,423.7 97.8,433.0 94.5,433.0 93.8,425.0 90.5,418.3 91.8,409.0 95.8,401.7" fill="#fba352" stroke="#b0a585" stroke-opacity="0.75" stroke-width="0.55"/>
<polygon points="92.5,397.0 99.1,397.0 95.8,401.7 91.8,408.3 89.8,418.3 92.5,423.7 93.8,429.0 94.5,433.0 86.5,431.0 85.8,423.7 81.8,419.0 78.5,415.0 79.1,409.7 83.1,406.3 86.5,402.3 89.1,399.7" fill="#d42a26" stroke="#b0a585" stroke-opacity="0.75" stroke-width="0.55"/>
<polygon points="108.5,417.0 113.8,415.0 116.5,419.7 119.1,425.0 117.8,431.0 120.5,434.3 119.1,449.0 95.1,449.0 95.8,433.0 98.5,431.0 103.1,423.7 105.8,418.3" fill="#fff6cc" stroke="#b0a585" stroke-opacity="0.75" stroke-width="0.55"/>
<polygon points="113.8,415.0 116.5,409.0 119.1,405.0 121.1,403.0 120.5,406.3 117.8,411.0 116.5,415.7" fill="#fff6cc" stroke="#b0a585" stroke-opacity="0.75" stroke-width="0.55"/>
<polygon points="128.7,382.5 136.0,382.5 134.0,391.7 129.3,403.7 126.7,413.0 128.7,421.0 129.3,439.7 116.7,439.7 117.3,421.0 121.3,410.3 124.7,401.0 128.0,391.7" fill="#fff6cc" stroke="#b0a585" stroke-opacity="0.75" stroke-width="0.55"/>
<polygon points="136.0,382.5 140.0,382.5 139.3,398.3 138.7,411.7 140.7,421.0 141.3,439.7 129.3,439.7 128.7,421.0 126.7,413.0 129.3,403.7 134.0,391.7" fill="#fff6cc" stroke="#b0a585" stroke-opacity="0.75" stroke-width="0.55"/>
<polygon points="140.0,382.5 149.6,382.5 149.3,397.0 153.3,402.3 153.3,414.3 158.7,422.3 162.7,427.7 162.7,439.7 141.3,439.7 140.7,421.0 138.7,411.7 139.3,398.3" fill="#fff6cc" stroke="#b0a585" stroke-opacity="0.75" stroke-width="0.55"/>
<polygon points="200.0,335.7 212.0,334.3 211.3,341.7 210.0,348.0 209.5,358.6 204.0,358.6 203.3,348.0 201.3,340.3" fill="#fff6cc" stroke="#b0a585" stroke-opacity="0.75" stroke-width="0.55"/>
<polyline points="225.8,333.1 227.8,340.0 229.8,349.3 232.5,356.0 233.5,360.7" fill="none" stroke="#b3a98a" stroke-opacity="0.6" stroke-width="0.5"/>
<polyline points="212.5,334.0 211.8,344.0 209.8,353.3 209.1,360.0" fill="none" stroke="#b3a98a" stroke-opacity="0.6" stroke-width="0.5"/>
<polyline points="150.0,398.7 153.3,403.3 153.3,414.0 158.0,420.7 163.3,426.7" fill="none" stroke="#b3a98a" stroke-opacity="0.6" stroke-width="0.5"/>
<polyline points="113.3,382.5 150.0,382.5" fill="none" stroke="#b3a98a" stroke-opacity="0.6" stroke-width="0.5"/>
<polyline points="124.0,383.0 124.7,391.7 120.7,401.0 117.3,405.0 113.3,413.0" fill="none" stroke="#b3a98a" stroke-opacity="0.6" stroke-width="0.5"/>
<polyline points="128.7,383.0 128.0,391.7 124.7,401.0 121.3,410.3 117.3,421.0 116.0,426.3" fill="none" stroke="#b3a98a" stroke-opacity="0.6" stroke-width="0.5"/>
<polyline points="113.3,383.0 112.0,391.7 109.3,405.0 105.3,418.3" fill="none" stroke="#b3a98a" stroke-opacity="0.6" stroke-width="0.5"/>
<polyline points="125.3,382.3 124.0,371.7 117.3,366.3" fill="none" stroke="#b3a98a" stroke-opacity="0.6" stroke-width="0.5"/>
<polyline points="135.3,382.3 135.3,373.0 132.0,365.0" fill="none" stroke="#b3a98a" stroke-opacity="0.6" stroke-width="0.5"/>
<polyline points="169.8,312.0 171.8,317.3 175.1,322.7 173.8,326.7 171.1,332.0 168.5,335.3" fill="none" stroke="#b3a98a" stroke-opacity="0.6" stroke-width="0.5"/>
<polyline points="176.5,312.0 178.5,317.3 177.1,326.7 174.5,334.7" fill="none" stroke="#b3a98a" stroke-opacity="0.6" stroke-width="0.5"/>
<polyline points="181.8,312.0 181.1,320.0 178.5,329.3 177.1,335.3" fill="none" stroke="#b3a98a" stroke-opacity="0.6" stroke-width="0.5"/>
<polyline points="185.1,312.0 185.8,320.0 183.1,328.0 180.5,334.7" fill="none" stroke="#b3a98a" stroke-opacity="0.6" stroke-width="0.5"/>
</g>
<polygon points="114.3,316.7 116.3,315.0 124.3,313.0 132.3,311.0 137.7,312.3 140.0,311.0 138.0,307.3 145.3,288.0 146.7,287.6 153.3,290.0 160.0,290.4 164.0,291.3 166.7,289.7 171.0,287.5 169.7,277.7 171.7,273.0 178.3,271.7 181.7,269.0 182.3,265.0 187.0,264.1 192.3,263.7 193.7,268.3 197.0,271.7 201.0,275.7 205.0,277.9 210.3,277.9 215.0,279.7 218.3,283.7 221.0,289.0 224.3,293.7 224.3,297.7 223.0,301.7 221.7,306.3 221.7,310.3 225.0,313.0 231.7,313.9 240.7,314.4 248.7,315.7 255.3,319.3 261.3,323.3 267.3,324.7 268.7,328.0 272.0,333.3 275.3,339.3 277.3,342.4 274.7,344.7 274.7,351.3 272.7,353.7 266.7,354.7 260.0,358.7 253.3,364.7 249.3,370.0 244.0,371.3 243.3,376.0 241.6,378.7 243.3,382.7 243.3,386.7 237.3,388.7 226.7,392.0 220.0,394.0 216.0,396.0 217.3,402.0 222.7,407.3 226.7,412.0 222.0,415.3 222.0,419.3 225.3,420.7 225.3,424.7 222.0,425.0 216.7,423.0 212.7,423.3 208.7,423.0 203.3,421.3 198.0,420.0 192.7,421.0 186.0,422.0 179.3,423.0 176.0,426.0 170.0,429.3 163.3,429.3 158.0,432.7 150.0,433.3 144.3,431.0 140.3,429.7 136.3,431.7 131.0,434.3 125.0,433.7 119.7,433.0 116.3,437.0 114.3,442.3 109.7,444.3 104.3,445.7 99.7,443.0 97.0,439.0 96.3,433.0 92.3,431.7 87.0,430.3 83.0,427.7 79.0,426.3 76.3,423.7 75.7,418.3 73.5,415.5 68.0,414.0 62.5,412.8 61.0,411.0 65.0,408.7 65.0,403.3 62.3,398.0 59.7,394.7 54.3,392.7 53.0,388.7 50.3,384.7 53.0,382.0 55.0,378.7 55.7,375.3 61.0,374.0 63.7,370.7 69.0,370.7 71.7,368.7 73.7,372.0 78.3,371.3 81.0,367.3 83.7,363.3 90.3,362.7 95.7,360.0 101.0,358.7 106.3,355.3 112.3,351.7 116.3,350.3 117.0,345.0 119.0,343.0 119.7,339.7 122.3,337.7 122.3,333.0 120.3,329.7 119.7,325.0 119.0,319.7" fill="none" stroke="#000" stroke-width="2.7" stroke-linejoin="round"/>
</g>
<rect x="40.8" y="253.6" width="242.7" height="196.3" fill="none" stroke="#555" stroke-width="1.1"/>
<line x1="38" x2="40.8" y1="253.7" y2="253.7" stroke="#444" stroke-width="0.9"/>
<text x="35.8" y="256.2" font-size="7.8" text-anchor="end" fill="#7f7f7f">50°N</text>
<line x1="38" x2="40.8" y1="315.1" y2="315.1" stroke="#444" stroke-width="0.9"/>
<text x="35.8" y="317.6" font-size="7.8" text-anchor="end" fill="#7f7f7f">45°N</text>
<line x1="38" x2="40.8" y1="376.4" y2="376.4" stroke="#444" stroke-width="0.9"/>
<text x="35.8" y="378.9" font-size="7.8" text-anchor="end" fill="#7f7f7f">40°N</text>
<line x1="38" x2="40.8" y1="437.7" y2="437.7" stroke="#444" stroke-width="0.9"/>
<text x="35.8" y="440.2" font-size="7.8" text-anchor="end" fill="#7f7f7f">35°N</text>
<line x1="65.19999999999999" x2="65.19999999999999" y1="449.9" y2="452.6" stroke="#444" stroke-width="0.9"/>
<text x="65.19999999999999" y="460.6" font-size="7.8" text-anchor="middle" fill="#7f7f7f">75°E</text>
<line x1="114.8" x2="114.8" y1="449.9" y2="452.6" stroke="#444" stroke-width="0.9"/>
<text x="114.8" y="460.6" font-size="7.8" text-anchor="middle" fill="#7f7f7f">80°E</text>
<line x1="164.4" x2="164.4" y1="449.9" y2="452.6" stroke="#444" stroke-width="0.9"/>
<text x="164.4" y="460.6" font-size="7.8" text-anchor="middle" fill="#7f7f7f">85°E</text>
<line x1="214.0" x2="214.0" y1="449.9" y2="452.6" stroke="#444" stroke-width="0.9"/>
<text x="214.0" y="460.6" font-size="7.8" text-anchor="middle" fill="#7f7f7f">90°E</text>
<line x1="263.6" x2="263.6" y1="449.9" y2="452.6" stroke="#444" stroke-width="0.9"/>
<text x="263.6" y="460.6" font-size="7.8" text-anchor="middle" fill="#7f7f7f">95°E</text>
<text x="48.5" y="271.6" font-size="12.9" font-weight="bold" fill="#111">(b) SSP1−2.6</text>
<rect x="346.3" y="253.6" width="242.7" height="196.3" fill="none" stroke="#555" stroke-width="1.1"/>
<line x1="343.5" x2="346.3" y1="253.7" y2="253.7" stroke="#444" stroke-width="0.9"/>
<text x="341.3" y="256.2" font-size="7.8" text-anchor="end" fill="#7f7f7f">50°N</text>
<line x1="343.5" x2="346.3" y1="315.1" y2="315.1" stroke="#444" stroke-width="0.9"/>
<text x="341.3" y="317.6" font-size="7.8" text-anchor="end" fill="#7f7f7f">45°N</text>
<line x1="343.5" x2="346.3" y1="376.4" y2="376.4" stroke="#444" stroke-width="0.9"/>
<text x="341.3" y="378.9" font-size="7.8" text-anchor="end" fill="#7f7f7f">40°N</text>
<line x1="343.5" x2="346.3" y1="437.7" y2="437.7" stroke="#444" stroke-width="0.9"/>
<text x="341.3" y="440.2" font-size="7.8" text-anchor="end" fill="#7f7f7f">35°N</text>
<line x1="370.70000000000005" x2="370.70000000000005" y1="449.9" y2="452.6" stroke="#444" stroke-width="0.9"/>
<text x="370.70000000000005" y="460.6" font-size="7.8" text-anchor="middle" fill="#7f7f7f">75°E</text>
<line x1="420.3" x2="420.3" y1="449.9" y2="452.6" stroke="#444" stroke-width="0.9"/>
<text x="420.3" y="460.6" font-size="7.8" text-anchor="middle" fill="#7f7f7f">80°E</text>
<line x1="469.90000000000003" x2="469.90000000000003" y1="449.9" y2="452.6" stroke="#444" stroke-width="0.9"/>
<text x="469.90000000000003" y="460.6" font-size="7.8" text-anchor="middle" fill="#7f7f7f">85°E</text>
<line x1="519.5" x2="519.5" y1="449.9" y2="452.6" stroke="#444" stroke-width="0.9"/>
<text x="519.5" y="460.6" font-size="7.8" text-anchor="middle" fill="#7f7f7f">90°E</text>
<line x1="569.1" x2="569.1" y1="449.9" y2="452.6" stroke="#444" stroke-width="0.9"/>
<text x="569.1" y="460.6" font-size="7.8" text-anchor="middle" fill="#7f7f7f">95°E</text>
<text x="354.0" y="271.6" font-size="12.9" font-weight="bold" fill="#111">(c) SSP5−8.5</text>
<polygon points="46.1,478.2 30.5,481.29999999999995 46.1,484.4" fill="#fafcff" stroke="#b0b0b0" stroke-width="0.6"/>
<polygon points="265.2,478.2 278.3,481.29999999999995 265.2,484.4" fill="#1b2a7a"/>
<rect x="46.1" y="478.2" width="31.5" height="6.2" fill="#e7effa"/>
<rect x="77.4" y="478.2" width="31.5" height="6.2" fill="#d3e2f3"/>
<rect x="108.7" y="478.2" width="31.5" height="6.2" fill="#b5d2ea"/>
<rect x="140.0" y="478.2" width="31.5" height="6.2" fill="#90bcdf"/>
<rect x="171.3" y="478.2" width="31.5" height="6.2" fill="#6da6d5"/>
<rect x="202.6" y="478.2" width="31.5" height="6.2" fill="#4a8ac7"/>
<rect x="233.9" y="478.2" width="31.5" height="6.2" fill="#2e68b1"/>
<rect x="46.1" y="478.2" width="219.1" height="6.2" fill="none" stroke="#9a9a9a" stroke-opacity="0.6" stroke-width="0.5"/>
<line x1="46.1" x2="46.1" y1="478.2" y2="487.0" stroke="#3c3c3c" stroke-width="0.8"/>
<text x="46.1" y="494.3" font-size="9" text-anchor="middle" fill="#1a1a1a">2</text>
<line x1="77.4" x2="77.4" y1="478.2" y2="487.0" stroke="#3c3c3c" stroke-width="0.8"/>
<text x="77.4" y="494.3" font-size="9" text-anchor="middle" fill="#1a1a1a">3</text>
<line x1="108.7" x2="108.7" y1="478.2" y2="487.0" stroke="#3c3c3c" stroke-width="0.8"/>
<text x="108.7" y="494.3" font-size="9" text-anchor="middle" fill="#1a1a1a">4</text>
<line x1="140.0" x2="140.0" y1="478.2" y2="487.0" stroke="#3c3c3c" stroke-width="0.8"/>
<text x="140.0" y="494.3" font-size="9" text-anchor="middle" fill="#1a1a1a">5</text>
<line x1="171.3" x2="171.3" y1="478.2" y2="487.0" stroke="#3c3c3c" stroke-width="0.8"/>
<text x="171.3" y="494.3" font-size="9" text-anchor="middle" fill="#1a1a1a">6</text>
<line x1="202.6" x2="202.6" y1="478.2" y2="487.0" stroke="#3c3c3c" stroke-width="0.8"/>
<text x="202.6" y="494.3" font-size="9" text-anchor="middle" fill="#1a1a1a">7</text>
<line x1="233.9" x2="233.9" y1="478.2" y2="487.0" stroke="#3c3c3c" stroke-width="0.8"/>
<text x="233.9" y="494.3" font-size="9" text-anchor="middle" fill="#1a1a1a">8</text>
<line x1="265.2" x2="265.2" y1="478.2" y2="487.0" stroke="#3c3c3c" stroke-width="0.8"/>
<text x="265.2" y="494.3" font-size="9" text-anchor="middle" fill="#1a1a1a">9</text>
<text x="40.3" y="472.6" font-size="12.9" font-weight="bold" fill="#111">Changes of disease risk in 2080s (%)</text>
<polygon points="352.0,478.2 335.8,481.29999999999995 352.0,484.4" fill="#fffbd9" stroke="#b0b0b0" stroke-width="0.6"/>
<polygon points="570.8,478.2 586.1,481.29999999999995 570.8,484.4" fill="#7c0e2c"/>
<rect x="352.0" y="478.2" width="31.4" height="6.2" fill="#fff2c0"/>
<rect x="383.2" y="478.2" width="31.4" height="6.2" fill="#fddc8c"/>
<rect x="414.5" y="478.2" width="31.4" height="6.2" fill="#fdc26a"/>
<rect x="445.8" y="478.2" width="31.4" height="6.2" fill="#fba352"/>
<rect x="477.0" y="478.2" width="31.4" height="6.2" fill="#f5713c"/>
<rect x="508.2" y="478.2" width="31.4" height="6.2" fill="#e0301f"/>
<rect x="539.5" y="478.2" width="31.4" height="6.2" fill="#b81b38"/>
<rect x="352.0" y="478.2" width="218.8" height="6.2" fill="none" stroke="#9a9a9a" stroke-opacity="0.6" stroke-width="0.5"/>
<line x1="352.0" x2="352.0" y1="478.2" y2="487.0" stroke="#3c3c3c" stroke-width="0.8"/>
<text x="352.0" y="494.3" font-size="9" text-anchor="middle" fill="#1a1a1a">4</text>
<line x1="383.2" x2="383.2" y1="478.2" y2="487.0" stroke="#3c3c3c" stroke-width="0.8"/>
<text x="383.2" y="494.3" font-size="9" text-anchor="middle" fill="#1a1a1a">8</text>
<line x1="414.5" x2="414.5" y1="478.2" y2="487.0" stroke="#3c3c3c" stroke-width="0.8"/>
<text x="414.5" y="494.3" font-size="9" text-anchor="middle" fill="#1a1a1a">12</text>
<line x1="445.8" x2="445.8" y1="478.2" y2="487.0" stroke="#3c3c3c" stroke-width="0.8"/>
<text x="445.8" y="494.3" font-size="9" text-anchor="middle" fill="#1a1a1a">16</text>
<line x1="477.0" x2="477.0" y1="478.2" y2="487.0" stroke="#3c3c3c" stroke-width="0.8"/>
<text x="477.0" y="494.3" font-size="9" text-anchor="middle" fill="#1a1a1a">20</text>
<line x1="508.2" x2="508.2" y1="478.2" y2="487.0" stroke="#3c3c3c" stroke-width="0.8"/>
<text x="508.2" y="494.3" font-size="9" text-anchor="middle" fill="#1a1a1a">24</text>
<line x1="539.5" x2="539.5" y1="478.2" y2="487.0" stroke="#3c3c3c" stroke-width="0.8"/>
<text x="539.5" y="494.3" font-size="9" text-anchor="middle" fill="#1a1a1a">28</text>
<line x1="570.8" x2="570.8" y1="478.2" y2="487.0" stroke="#3c3c3c" stroke-width="0.8"/>
<text x="570.8" y="494.3" font-size="9" text-anchor="middle" fill="#1a1a1a">32</text>
<text x="346.2" y="472.6" font-size="12.9" font-weight="bold" fill="#111">Changes of disease risk in 2080s (%)</text>
</svg>
</body></html>
